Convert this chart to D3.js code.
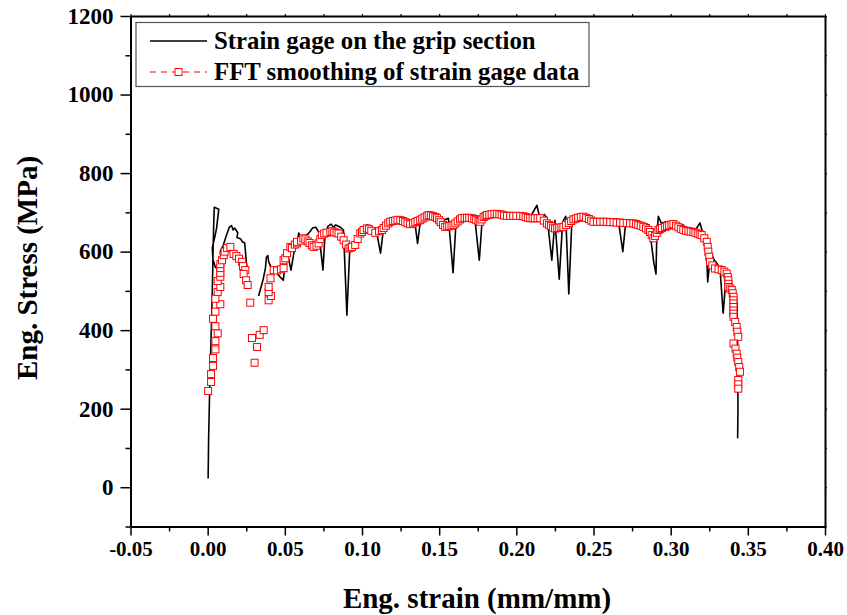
<!DOCTYPE html>
<html>
<head>
<meta charset="utf-8">
<script src="https://cdn.jsdelivr.net/npm/d3@7"></script>
<style>
  body { margin: 0; background: #fff; }
  svg { display: block; }
  text { font-family: "Liberation Serif", "Times New Roman", serif; font-weight: bold; fill: #000; }
</style>
</head>
<body>
<svg id="chart"></svg>
<script>
// data  [strain, stress]; null stress = gap in the record
const rawSeries = [
  [0.0003,22],[0.0006,120],[0.0012,230],[0.0020,350],[0.0027,450],[0.0032,540],[0.0036,620],[0.0040,680],
  [0.0043,713],[0.0072,708],[0.0058,660],[0.0045,635],[0.0030,610],[0.0034,580],[0.0050,560],[0.0070,555],
  [0.0085,545],[0.0090,575],[0.0082,600],[0.0100,615],[0.0120,640],[0.0140,662],[0.0155,666],[0.0165,655],
  [0.0175,660],[0.0195,648],[0.0190,636],[0.0215,632],[0.0225,625],[0.0240,622],[0.0245,600],[0.0250,575],
  [0.0255,560],[0.0290,null],
  [0.0330,487],[0.0360,530],[0.0375,560],[0.0380,585],[0.0390,590],[0.0395,575],[0.0410,560],[0.0430,550],
  [0.0450,545],[0.0470,535],[0.0490,527],[0.0500,560],[0.0520,590],[0.0540,553],[0.0560,600],[0.0575,612],
  [0.0590,647],[0.0600,640],[0.0620,630],[0.0635,642],[0.0650,645],[0.0665,652],[0.0680,660],[0.0700,662],
  [0.0720,650],[0.0747,553],[0.0760,640],[0.0770,655],[0.0780,665],[0.0800,670],[0.0815,662],[0.0830,668],
  [0.0860,662],[0.0880,655],[0.0902,438],[0.0920,600],[0.0940,625],[0.0955,618],[0.0970,640],[0.1000,660],
  [0.1015,652],[0.1030,668],[0.1060,665],[0.1075,656],[0.1090,660],[0.1120,596],[0.1140,660],[0.1155,670],
  [0.1170,678],[0.1200,685],[0.1220,676],[0.1240,682],[0.1260,672],[0.1280,678],[0.1300,670],[0.1320,680],
  [0.1340,682],[0.1360,621],[0.1380,682],[0.1395,688],[0.1410,692],[0.1440,698],[0.1455,688],[0.1470,690],
  [0.1500,682],[0.1515,672],[0.1530,680],[0.1560,685],[0.1590,546],[0.1610,680],[0.1625,674],[0.1640,688],
  [0.1670,692],[0.1685,684],[0.1700,690],[0.1730,688],[0.1760,578],[0.1780,688],[0.1795,684],[0.1810,695],
  [0.1850,698],[0.1870,690],[0.1900,695],[0.1925,688],[0.1950,692],[0.2000,693],[0.2025,686],[0.2050,690],
  [0.2070,684],[0.2090,688],[0.2133,718],[0.2150,690],[0.2165,683],[0.2180,695],[0.2200,685],[0.2230,578],
  [0.2250,680],[0.2278,530],[0.2300,675],[0.2320,690],[0.2340,492],[0.2360,680],[0.2375,672],[0.2390,690],
  [0.2420,692],[0.2440,684],[0.2460,690],[0.2500,685],[0.2520,676],[0.2540,682],[0.2580,680],[0.2600,672],
  [0.2620,680],[0.2660,682],[0.2690,600],[0.2710,680],[0.2730,672],[0.2750,678],[0.2790,676],[0.2810,668],
  [0.2830,672],[0.2860,668],[0.2890,574],[0.2905,543],[0.2910,640],[0.2920,690],[0.2940,672],[0.2970,676],
  [0.3000,675],[0.3020,666],[0.3040,672],[0.3080,668],[0.3100,658],[0.3120,660],[0.3160,655],[0.3190,673],
  [0.3210,645],[0.3230,620],[0.3240,523],[0.3260,600],[0.3280,580],[0.3300,570],[0.3320,555],[0.3340,443],
  [0.3360,540],[0.3380,530],[0.3400,510],[0.3410,490],[0.3430,469],[0.3434,350],[0.3436,200],[0.3434,125]
];

const fftSeries = [
  [0.0003,245],[0.0022,268],[0.0022,288],[0.0035,309],[0.0035,329],[0.0050,351],[0.0050,372],[0.0065,392],
  [0.0050,410],[0.0035,429],[0.0050,447],[0.0082,466],[0.0050,480],[0.0065,497],[0.0082,510],[0.0065,525],
  [0.0082,536],[0.0082,546],[0.0082,558],[0.0082,568],[0.0093,578],[0.0104,591],[0.0110,600],[0.0126,609],
  [0.0147,612],[0.0168,594],[0.0186,589],[0.0203,582],[0.0223,574],[0.0229,563],[0.0244,553],[0.0233,543],
  [0.0249,527],[0.0259,515],[0.0276,470],[0.0287,380],[0.0304,317],[0.0320,357],[0.0337,388],[0.0363,400],
  [0.0395,476],[0.0410,487],[0.0395,497],[0.0395,510],[0.0407,532],[0.0428,553],[0.0450,552],[0.0475,555],
  [0.0492,558],[0.0492,578],[0.0503,583],[0.0514,596],[0.0536,612],[0.0546,609],[0.0565,618],[0.0579,621],
  [0.0579,625],[0.0605,628],[0.0620,634],[0.0633,631],[0.0648,626],[0.0660,622],[0.0675,616],[0.0687,612],
  [0.0705,615],[0.0719,621],[0.0730,632],[0.0740,642],[0.0755,646],[0.0770,648],[0.0795,650],[0.0808,652],
  [0.0820,649],[0.0835,648],[0.0848,646],[0.0865,638],[0.0881,629],[0.0897,618],[0.0913,608],[0.0925,610],
  [0.0935,612],[0.0956,617],[0.0972,632],[0.0989,646],[0.1000,650],[0.1010,655],[0.1032,659],[0.1045,657],
  [0.1060,653],[0.1086,648],[0.1110,652],[0.1129,655],[0.1140,660],[0.1155,666],[0.1170,672],[0.1183,676],
  [0.1200,678],[0.1215,679],[0.1230,681],[0.1248,680],[0.1265,678],[0.1280,675],[0.1295,672],[0.1312,670],
  [0.1330,672],[0.1345,675],[0.1360,678],[0.1377,680],[0.1390,684],[0.1405,687],[0.1420,690],[0.1432,693],
  [0.1446,692],[0.1460,690],[0.1475,688],[0.1486,685],[0.1500,680],[0.1510,675],[0.1525,668],[0.1539,663],
  [0.1552,664],[0.1565,665],[0.1580,666],[0.1593,668],[0.1605,672],[0.1620,677],[0.1635,682],[0.1647,685],
  [0.1665,686],[0.1680,686],[0.1695,686],[0.1712,685],[0.1728,683],[0.1740,681],[0.1755,678],[0.1766,676],
  [0.1775,682],[0.1788,688],[0.1800,691],[0.1809,693],[0.1825,694],[0.1840,695],[0.1858,696],[0.1874,696],
  [0.1890,695],[0.1905,694],[0.1920,692],[0.1939,691],[0.1960,691],[0.1980,691],[0.2000,691],[0.2025,691],
  [0.2045,690],[0.2060,688],[0.2075,686],[0.2090,685],[0.2105,685],[0.2120,685],[0.2138,685],[0.2155,685],
  [0.2178,679],[0.2198,672],[0.2212,668],[0.2225,665],[0.2238,661],[0.2251,659],[0.2265,660],[0.2278,661],
  [0.2292,662],[0.2305,663],[0.2322,668],[0.2340,673],[0.2355,678],[0.2370,682],[0.2385,684],[0.2400,686],
  [0.2418,688],[0.2435,689],[0.2452,686],[0.2470,683],[0.2485,679],[0.2500,676],[0.2522,676],[0.2543,676],
  [0.2565,676],[0.2586,676],[0.2608,675],[0.2630,675],[0.2650,674],[0.2672,674],[0.2693,673],[0.2715,673],
  [0.2737,672],[0.2758,672],[0.2775,670],[0.2790,668],[0.2806,666],[0.2823,663],[0.2840,659],[0.2856,655],
  [0.2866,650],[0.2877,642],[0.2888,634],[0.2899,640],[0.2910,648],[0.2921,655],[0.2932,658],[0.2943,660],
  [0.2964,663],[0.2977,665],[0.2990,667],[0.3005,669],[0.3018,670],[0.3035,666],[0.3050,662],[0.3066,658],
  [0.3082,655],[0.3100,653],[0.3115,652],[0.3130,651],[0.3147,650],[0.3160,648],[0.3175,646],[0.3188,644],
  [0.3201,642],[0.3218,634],[0.3234,625],[0.3240,612],[0.3244,600],[0.3250,587],[0.3255,574],[0.3270,565],
  [0.3287,557],[0.3310,555],[0.3331,553],[0.3348,549],[0.3363,544],[0.3370,535],[0.3374,527],[0.3374,518],
  [0.3374,510],[0.3386,506],[0.3396,502],[0.3402,494],[0.3407,485],[0.3407,476],[0.3407,468],[0.3407,459],
  [0.3407,450],[0.3407,442],[0.3407,434],[0.3418,421],[0.3428,408],[0.3432,396],[0.3438,383],[0.3407,366],
  [0.3420,353],[0.3428,340],[0.3432,330],[0.3438,319],[0.3444,306],[0.3449,294],[0.3438,273],[0.3438,262],
  [0.3438,251]
];

const xMajorTicks = [-0.05, 0.00, 0.05, 0.10, 0.15, 0.20, 0.25, 0.30, 0.35, 0.40];
const xMinorTicks = [-0.025, 0.025, 0.075, 0.125, 0.175, 0.225, 0.275, 0.325, 0.375];
const yMajorTicks = [0, 200, 400, 600, 800, 1000, 1200];
const yMinorTicks = [-100, 100, 300, 500, 700, 900, 1100];
const legendLabels = ['Strain gage on the grip section', 'FFT smoothing of strain gage data'];

let width = 847
let height = 615
let plotLeft = 130.5, plotRight = 825, plotTop = 16, plotBottom = 526.5

let svg = d3.select('#chart')
  .attr('width', width)
  .attr('height', height)

let xScale = d3.scaleLinear().domain([-0.05, 0.40]).range([plotLeft, plotRight])
let yScale = d3.scaleLinear().domain([-100, 1200]).range([plotBottom, plotTop])

// axes
let styleAxis = (g, w) => {
  g.select('.domain').attr('stroke', '#000').attr('stroke-width', 2)
  g.selectAll('.tick line').attr('stroke', '#000').attr('stroke-width', w)
}

svg.append('g')
  .attr('transform', `translate(0, ${plotBottom})`)
  .call(d3.axisBottom(xScale).tickValues(xMinorTicks).tickSize(5).tickSizeOuter(0).tickFormat(''))
  .call(g => styleAxis(g, 1.5))

svg.append('g')
  .attr('transform', `translate(0, ${plotBottom})`)
  .call(d3.axisBottom(xScale).tickValues(xMajorTicks).tickSize(9).tickSizeOuter(0)
    .tickFormat(d => d.toFixed(2)).tickPadding(6))
  .call(g => styleAxis(g, 1.5))
  .call(g => g.selectAll('text').style('font-size', '21px').attr('font-family', null).attr('font-size', null))

svg.append('g')
  .attr('transform', `translate(${plotLeft}, 0)`)
  .call(d3.axisLeft(yScale).tickValues(yMinorTicks).tickSize(5).tickSizeOuter(0).tickFormat(''))
  .call(g => styleAxis(g, 1.5))

svg.append('g')
  .attr('transform', `translate(${plotLeft}, 0)`)
  .call(d3.axisLeft(yScale).tickValues(yMajorTicks).tickSize(10).tickSizeOuter(0)
    .tickFormat(d => String(d)).tickPadding(7))
  .call(g => styleAxis(g, 1.5))
  .call(g => g.selectAll('text').style('font-size', '23px').attr('font-family', null).attr('font-size', null))

svg.append('g')
  .attr('transform', `translate(0, ${plotTop})`)
  .call(d3.axisTop(xScale).tickValues(xMajorTicks.concat(xMinorTicks)).tickSize(2).tickSizeOuter(0).tickFormat(''))
  .call(g => styleAxis(g, 1.2))

svg.append('g')
  .attr('transform', `translate(${plotRight}, 0)`)
  .call(d3.axisRight(yScale).tickValues(yMajorTicks.concat(yMinorTicks)).tickSize(2).tickSizeOuter(0).tickFormat(''))
  .call(g => styleAxis(g, 1.2))

// axis titles
svg.append('text')
  .attr('x', 477)
  .attr('y', 608)
  .attr('text-anchor', 'middle')
  .style('font-size', '29px')
  .text('Eng. strain (mm/mm)')

svg.append('text')
  .attr('transform', 'rotate(-90)')
  .attr('x', -268)
  .attr('y', 37)
  .attr('text-anchor', 'middle')
  .style('font-size', '29px')
  .text('Eng. Stress (MPa)')

// series
let line = d3.line()
  .defined(d => d[1] != null)
  .x(d => xScale(d[0]))
  .y(d => yScale(d[1]))

svg.append('path')
  .datum(rawSeries)
  .attr('d', line)
  .attr('fill', 'none')
  .attr('stroke', '#000')
  .attr('stroke-width', 1.6)
  .attr('stroke-linejoin', 'round')

let sq = 7
svg.selectAll('rect.fft')
  .data(fftSeries)
  .enter()
  .append('rect')
  .attr('class', 'fft')
  .attr('x', d => xScale(d[0]) - sq / 2)
  .attr('y', d => yScale(d[1]) - sq / 2)
  .attr('width', sq)
  .attr('height', sq)
  .attr('fill', '#fff')
  .attr('stroke', '#ff0000')
  .attr('stroke-width', 1)

// legend
let legend = svg.append('g')
legend.append('rect')
  .attr('x', 136)
  .attr('y', 22.5)
  .attr('width', 453)
  .attr('height', 64)
  .attr('fill', '#fff')
  .attr('stroke', '#555')
  .attr('stroke-width', 1.2)

legend.append('line')
  .attr('x1', 150).attr('x2', 207)
  .attr('y1', 41).attr('y2', 41)
  .attr('stroke', '#000').attr('stroke-width', 1.5)

legend.append('line')
  .attr('x1', 150).attr('x2', 207)
  .attr('y1', 72).attr('y2', 72)
  .attr('stroke', '#ff0000').attr('stroke-width', 1)
  .attr('stroke-dasharray', '6,5')

legend.append('rect')
  .attr('x', 178.5 - sq / 2).attr('y', 72 - sq / 2)
  .attr('width', sq).attr('height', sq)
  .attr('fill', '#fff').attr('stroke', '#ff0000').attr('stroke-width', 1)

legend.selectAll('text.lg')
  .data(legendLabels)
  .enter()
  .append('text')
  .attr('class', 'lg')
  .attr('x', 214)
  .attr('y', (d, i) => 49 + i * 31)
  .style('font-size', '24.8px')
  .text(d => d)
</script>
</body>
</html>
